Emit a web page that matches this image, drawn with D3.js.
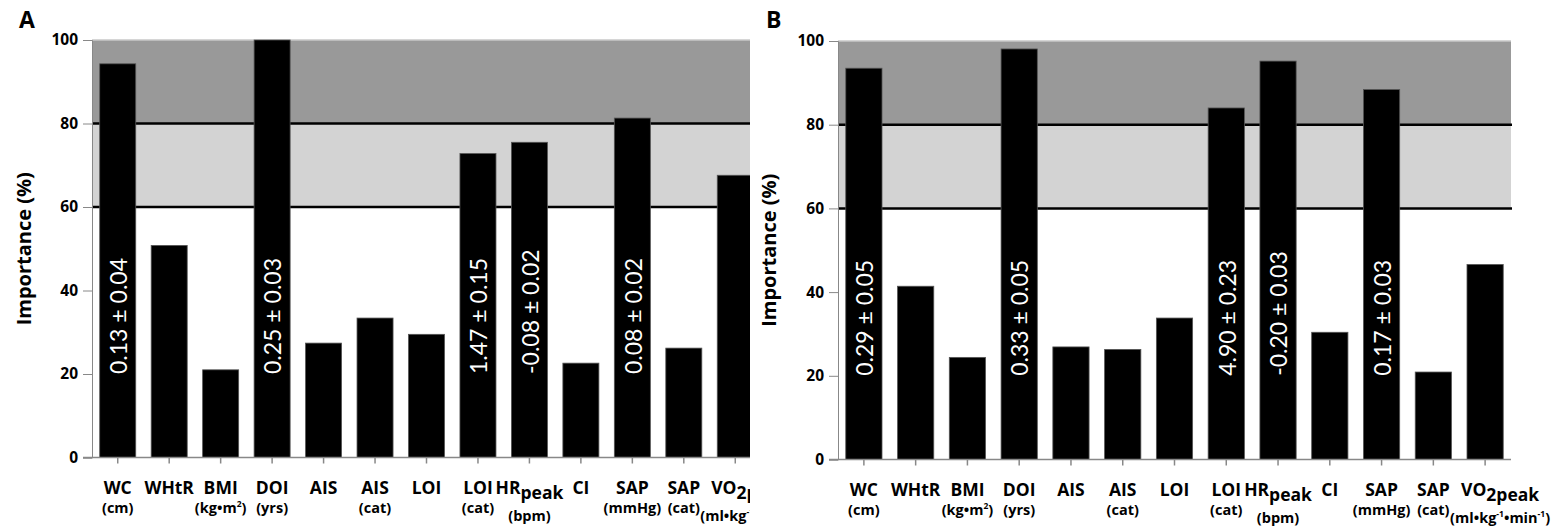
<!DOCTYPE html>
<html>
<head>
<meta charset="utf-8">
<script src="https://cdn.jsdelivr.net/npm/d3@7"></script>
<style>
  body { margin: 0; background: #fff; }
  svg { display: block; font-family: "Open Sans", sans-serif; }
</style>
</head>
<body>
<svg id="chart" width="1559" height="527"></svg>
<script>
// variables on the x axis (same for both panels)
const categories = ["WC", "WHtR", "BMI", "DOI", "AIS", "AIS", "LOI", "LOI", "HR", "CI", "SAP", "SAP", "VO"];
// subscript after the main name
const subscripts = ["", "", "", "", "", "", "", "", "peak", "", "", "", "2peak"];
// unit line under the name, ^...^ marks a superscript
const units = ["(cm)", "", "(kg•m^2^)", "(yrs)", "", "(cat)", "", "(cat)", "(bpm)", "", "(mmHg)", "(cat)", "(ml•kg^-1^•min^-1^)"];

// importance (%)
const importanceA = [94.3, 50.8, 21.0, 100, 27.4, 33.4, 29.5, 72.8, 75.5, 22.6, 81.3, 26.2, 67.6];
const importanceB = [93.5, 41.4, 24.4, 98.1, 26.9, 26.3, 33.8, 84.0, 95.2, 30.4, 88.4, 20.9, 46.6];

// coefficient labels written inside some bars
const coefA = ["0.13 ± 0.04", "", "", "0.25 ± 0.03", "", "", "", "1.47 ± 0.15", "-0.08 ± 0.02", "", "0.08 ± 0.02", "", ""];
const coefB = ["0.29 ± 0.05", "", "", "0.33 ± 0.05", "", "", "", "4.90 ± 0.23", "-0.20 ± 0.03", "", "0.17 ± 0.03", "", ""];

const yTicks = [0, 20, 40, 60, 80, 100];
// shaded zones behind bars
const zones = [{ from: 80, to: 100, color: "#999999" }, { from: 60, to: 80, color: "#d3d3d3" }];
const thresholds = [60, 80];

const svg = d3.select("#chart");

function drawPanel(opts) {
  const values = opts.values;
  const g = svg.append("g");
  if (opts.clip) {
    //panel A is cut off on the right in the original figure
    svg.append("clipPath").attr("id", opts.id + "clip")
      .append("rect").attr("x", 0).attr("y", 0).attr("width", opts.clip).attr("height", 527);
    g.attr("clip-path", "url(#" + opts.id + "clip)");
  }

  const x = d3.scaleBand()
    .domain(d3.range(categories.length))
    .range([opts.left, opts.right])
    .paddingInner(0.3)
    .paddingOuter(0.15);
  const y = d3.scaleLinear().domain([0, 100]).range([opts.bottom, opts.top]);
  const cx = i => x(i) + x.bandwidth() / 2;

  // background zones
  g.selectAll("rect.zone")
    .data(zones)
    .enter()
    .append("rect")
    .attr("class", "zone")
    .attr("x", opts.left)
    .attr("width", opts.right - opts.left)
    .attr("y", d => y(d.to))
    .attr("height", d => y(d.from) - y(d.to))
    .attr("fill", d => d.color);

  g.append("line")
    .attr("x1", opts.left).attr("x2", opts.right)
    .attr("y1", y(100)).attr("y2", y(100))
    .attr("stroke", "#c8c8c8").attr("stroke-width", 1.5);

  g.selectAll("line.thr")
    .data(thresholds)
    .enter()
    .append("line")
    .attr("class", "thr")
    .attr("x1", opts.left).attr("x2", opts.right + 1)
    .attr("y1", d => y(d)).attr("y2", d => y(d))
    .attr("stroke", "#000").attr("stroke-width", 2.5);

  // bars
  g.selectAll("rect.bar")
    .data(values)
    .enter()
    .append("rect")
    .attr("class", "bar")
    .attr("x", (d, i) => x(i))
    .attr("width", x.bandwidth())
    .attr("y", d => y(d))
    .attr("height", d => y(0) - y(d))
    .attr("fill", "#000")
    .attr("stroke", "#555")
    .attr("stroke-width", 0.8);

  // coefficients inside bars
  g.selectAll("text.coef")
    .data(opts.coef)
    .enter()
    .append("text")
    .attr("class", "coef")
    .attr("transform", (d, i) => "translate(" + (cx(i) + 1) + "," + y(20) + ") rotate(-90)")
    .attr("dy", "0.36em")
    .attr("fill", "#fff")
    .attr("font-family", "Lato, sans-serif")
    .attr("font-size", 23)
    .text(d => d);

  // y axis
  const yAxis = d3.axisLeft(y).tickValues(yTicks).tickSize(9).tickPadding(5);
  const ya = g.append("g").attr("transform", "translate(" + opts.left + ",0)").call(yAxis);
  ya.select(".domain").attr("stroke", "#888");
  ya.selectAll(".tick line").attr("stroke", "#888");
  ya.selectAll(".tick text")
    .attr("font-family", "'Open Sans', sans-serif")
    .attr("font-size", 15.5)
    .attr("font-weight", "bold")
    .attr("fill", "#000");

  // x axis line and ticks
  g.append("line")
    .attr("x1", opts.left - 9).attr("x2", opts.right)
    .attr("y1", y(0)).attr("y2", y(0))
    .attr("stroke", "#888").attr("stroke-width", 1.5);
  g.selectAll("line.xt")
    .data(categories)
    .enter()
    .append("line")
    .attr("class", "xt")
    .attr("x1", (d, i) => cx(i))
    .attr("x2", (d, i) => cx(i))
    .attr("y1", y(0)).attr("y2", y(0) + 6)
    .attr("stroke", "#888").attr("stroke-width", 1.5);

  // category labels (the last, long one is pushed right like in the original)
  const last = categories.length - 1;
  const lab = g.selectAll("g.lab")
    .data(categories)
    .enter()
    .append("g")
    .attr("class", "lab")
    .attr("transform", (d, i) => "translate(" + (cx(i) + (i === last ? 15 : 0)) + "," + (y(0) + 36) + ")");

  const main = lab.append("text")
    .attr("text-anchor", "middle")
    .attr("font-size", 17.5)
    .attr("font-weight", "bold");
  main.append("tspan").text(d => d);
  main.append("tspan")
    .attr("dy", 5)
    .text((d, i) => subscripts[i]);

  lab.append("text")
    .attr("text-anchor", "middle")
    .attr("font-size", 14.5)
    .attr("font-weight", "bold")
    .attr("y", (d, i) => subscripts[i] ? 27 : 19)
    .each(function(d, i) {
      const parts = units[i].split("^");
      const t = d3.select(this);
      parts.forEach(function(p, k) {
        if (!p) return;
        if (k % 2 === 1) {
          t.append("tspan").attr("font-size", 8.5).attr("baseline-shift", "6").text(p);
        } else {
          t.append("tspan").text(p);
        }
      });
    });

  // axis title
  svg.append("text")
    .attr("transform", "translate(" + opts.titleX + "," + (opts.top + opts.bottom) / 2 + ") rotate(-90)")
    .attr("text-anchor", "middle")
    .attr("dy", "0.35em")
    .attr("font-size", 20)
    .attr("font-weight", "bold")
    .text("Importance (%)");

  // panel letter
  svg.append("text")
    .attr("x", opts.letterX).attr("y", 28)
    .attr("font-size", 23)
    .attr("font-weight", "bold")
    .text(opts.letter);
}

drawPanel({ id: "A", letter: "A", letterX: 19, titleX: 24, values: importanceA, coef: coefA,
  left: 92, right: 761, top: 40, bottom: 457.5, clip: 750 });
drawPanel({ id: "B", letter: "B", letterX: 766, titleX: 769, values: importanceB, coef: coefB,
  left: 838, right: 1511, top: 41, bottom: 459.5 });
</script>
</body>
</html>
